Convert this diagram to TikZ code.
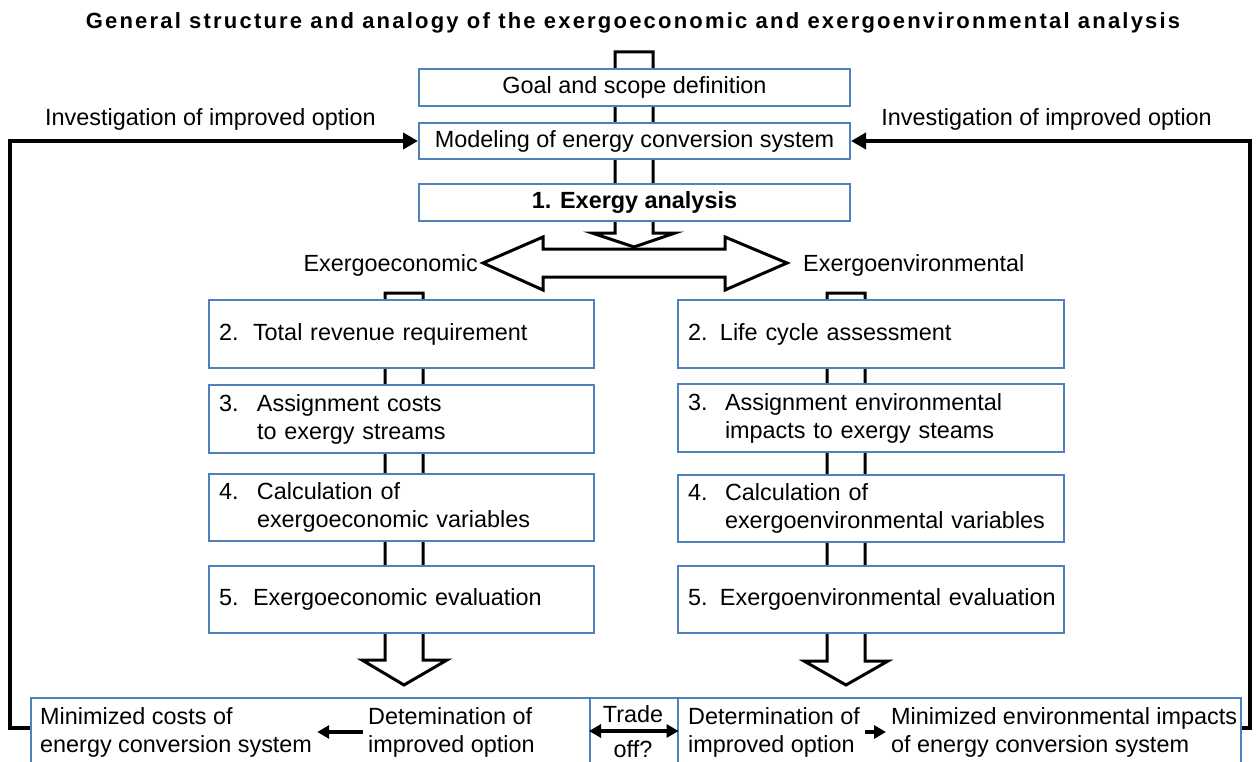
\documentclass[tikz,border=0pt]{standalone}
\usepackage{fontspec}
\setmainfont{Liberation Sans}
\newfontfamily\titlefont[LetterSpace=10]{Liberation Sans}
\usetikzlibrary{arrows.meta}
\definecolor{boxblue}{RGB}{79,129,189}
\newcommand{\numl}[2]{\makebox[#1][l]{#2}}
\begin{document}
\begin{tikzpicture}[x=1pt,y=-1pt,
  font=\fontsize{23.4}{28}\selectfont,
  box/.style={draw=boxblue, line width=2pt, fill=white, inner xsep=10pt, inner ysep=0pt, anchor=north west, align=left},
  cbox/.style={draw=boxblue, line width=2pt, fill=white, inner sep=0pt, anchor=north west, align=center},
  cell/.style={draw=boxblue, line width=1.6pt, fill=white, inner sep=0pt, anchor=north west},
  hollow/.style={draw=black, line width=3pt, fill=white, line join=miter},
  loopline/.style={draw=black, line width=4.5pt, -{Triangle[length=15pt,width=16pt]}},
  small/.style={draw=black, line width=4pt, -{Triangle[length=12pt,width=13pt]}},
  txt/.style={inner xsep=5pt, inner ysep=0pt, align=left}
]
\useasboundingbox (0,0) rectangle (1257,762);
\clip (0,0) rectangle (1257,762);

% title
\node[font=\titlefont\bfseries\fontsize{22}{26}\selectfont] (title) at (633,23) {General structure and analogy of the exergoeconomic and exergoenvironmental analysis};

% central hollow arrow (behind boxes)
\draw[hollow] (615,52) -- (653,52) -- (653,233) -- (675,233) -- (634,247) -- (592,233) -- (615,233) -- cycle;
% column hollow arrows
\draw[hollow] (385,293) -- (423,293) -- (423,660) -- (447,660) -- (404,685) -- (362,660) -- (385,660) -- cycle;
\draw[hollow] (827,293) -- (865,293) -- (865,661) -- (888,661) -- (846,685) -- (804,661) -- (827,661) -- cycle;

% top boxes
\node[cbox, minimum width=431pt, minimum height=37pt] (goal) at (418,68) {Goal and scope definition};
\node[cbox, minimum width=431pt, minimum height=36pt] (model) at (418,122) {Modeling of energy conversion system};
\node[cbox, minimum width=431pt, minimum height=37pt, font=\fontsize{23.4}{28}\selectfont\bfseries] (exergy) at (418,183) {1. Exergy analysis};

% double hollow arrow
\draw[hollow] (483,263) -- (543,237) -- (543,249) -- (725,249) -- (725,237) -- (787,263) -- (725,290) -- (725,277) -- (543,277) -- (543,290) -- cycle;
\node[anchor=east, inner sep=0pt] (econlab) at (478,265) {Exergoeconomic};
\node[anchor=west, inner sep=0pt] (envlab) at (803,265) {Exergoenvironmental};

% left column
\node[box, text width=365pt, minimum height=68pt] (l2) at (208,299) {\numl{34pt}{2.}Total revenue requirement};
\node[box, text width=365pt, minimum height=68pt] (l3) at (208,384) {\numl{38pt}{3.}Assignment costs\\\hspace*{38pt}to exergy streams};
\node[box, text width=365pt, minimum height=67pt] (l4) at (208,473) {\numl{38pt}{4.}Calculation of\\\hspace*{38pt}exergoeconomic variables};
\node[box, text width=365pt, minimum height=67pt] (l5) at (208,565) {\numl{34pt}{5.}Exergoeconomic evaluation};

% right column
\node[box, text width=366pt, minimum height=68pt] (r2) at (677,299) {\numl{32pt}{2.}Life cycle assessment};
\node[box, text width=366pt, minimum height=68pt] (r3) at (677,383) {\numl{37pt}{3.}Assignment environmental\\\hspace*{37pt}impacts to exergy steams};
\node[box, text width=366pt, minimum height=67pt] (r4) at (677,474) {\numl{37pt}{4.}Calculation of\\\hspace*{37pt}exergoenvironmental variables};
\node[box, text width=366pt, minimum height=67pt] (r5) at (677,565) {\mbox{\numl{32pt}{5.}Exergoenvironmental evaluation}};

% bottom row cells
\node[cell, minimum width=559pt, minimum height=90pt] (bl) at (30,697) {};
\node[cell, minimum width=88pt, minimum height=90pt] (bt) at (589,697) {};
\node[cell, minimum width=563pt, minimum height=90pt] (br) at (677,697) {};

% bottom texts
\node[txt, anchor=west] (mincost) at (35,732) {Minimized costs of\\energy conversion system};
\node[txt, anchor=west] (detl) at (363,732) {Detemination of\\improved option};
\node[inner sep=0pt] (trade) at (633,714) {Trade};
\node[inner sep=0pt] (off) at (633,749) {off?};
\node[txt, anchor=west] (detr) at (683,732) {Determination of\\improved option};
\node[txt, anchor=west] (minenv) at (886,732) {Minimized environmental impacts\\of energy conversion system};

% bottom arrows
\draw[small] (detl.west) -- (mincost.east);
\draw[small] (detr.east) -- (minenv.west);
\draw[draw=black, line width=4pt, {Triangle[length=12pt,width=13pt]}-{Triangle[length=12pt,width=13pt]}] (bt.west |- 0,731) -- (bt.east |- 0,731);

% feedback loops
\draw[loopline] (bl.west |- 0,728) -- (10,728) -- (10,141) -- (model.west);
\draw[loopline] (br.east |- 0,728) -- (1250,728) -- (1250,141) -- (model.east);
\node[anchor=south west, inner sep=0pt] (invl) at (45,131) {Investigation of improved option};
\node[anchor=south east, inner sep=0pt] (invr) at (1212,131) {Investigation of improved option};
\end{tikzpicture}
\end{document}
